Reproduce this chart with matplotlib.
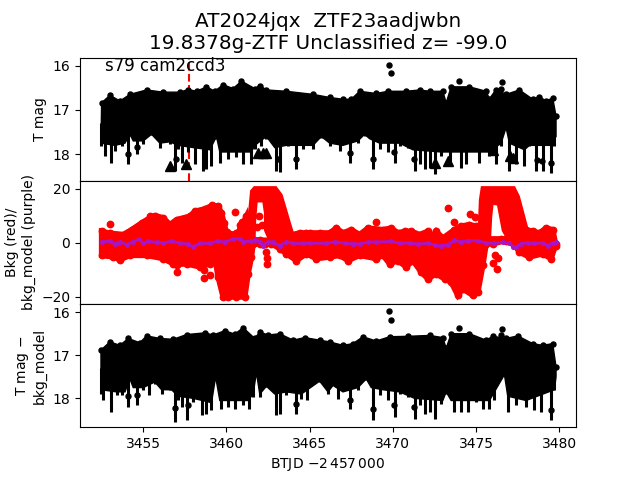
import matplotlib
matplotlib.use("Agg")
import matplotlib.pyplot as plt
import numpy as np

TITLE = "AT2024jqx  ZTF23aadjwbn\n19.8378g-ZTF Unclassified z= -99.0"
SECTOR_TEXT = "s79 cam2ccd3"
REF_TIME = 3457.76

### top panel: edges of the dense light curve
t_top1 = [3452.5, 3453.0, 3453.6, 3454.2, 3455.2, 3456.2, 3457.2, 3457.7, 3458.2, 3458.8, 3459.3, 3459.8,
          3460.4, 3460.9, 3461.7, 3462.0, 3462.4, 3463.6, 3465.2, 3466.2, 3467.0, 3467.5, 3468.0, 3469.0,
          3469.7, 3470.8, 3471.6, 3472.2, 3473.0, 3473.2, 3473.5, 3474.6, 3475.6, 3475.8, 3476.2, 3476.8,
          3477.6, 3478.4, 3478.8, 3479.2, 3479.6, 3479.8]
mag_top1 = [16.84, 16.67, 16.80, 16.65, 16.55, 16.60, 16.60, 16.54, 16.58, 16.48, 16.58, 16.43,
            16.52, 16.35, 16.52, 16.45, 16.55, 16.58, 16.65, 16.72, 16.76, 16.76, 16.58, 16.63,
            16.58, 16.58, 16.55, 16.58, 16.58, 16.84, 16.48, 16.48, 16.58, 16.75, 16.54, 16.65,
            16.55, 16.76, 16.70, 16.80, 16.73, 17.14]
t_core1 = [3452.46, 3453.3, 3453.9, 3454.2, 3454.4, 3455.0, 3455.5, 3456.0, 3456.6, 3457.1, 3458.0, 3459.0,
           3459.4, 3459.6, 3461.5, 3461.7, 3462.4, 3462.9, 3463.6, 3464.6, 3465.2, 3465.7, 3466.2, 3467.0,
           3467.9, 3468.3, 3468.6, 3469.2, 3470.4, 3471.2, 3472.9, 3473.4, 3475.8, 3476.5, 3476.8, 3477.0,
           3477.9, 3478.2, 3479.5, 3479.8]
mag_core1 = [17.75, 17.80, 17.75, 17.55, 17.70, 17.70, 17.55, 17.75, 17.72, 17.80, 17.85, 17.90,
             17.60, 17.95, 17.95, 17.80, 17.60, 17.85, 17.80, 17.80, 17.80, 17.60, 17.75, 17.80,
             17.70, 17.55, 17.65, 17.75, 17.75, 17.90, 17.95, 17.95, 17.95, 17.75, 17.40, 17.75,
             17.90, 17.80, 17.80, 17.60]
t_bot1 = [3452.46, 3452.7, 3453.05, 3453.3, 3453.7, 3454.06, 3454.2, 3454.6, 3455.0, 3455.5, 3456.0, 3456.6,
          3456.9, 3457.1, 3457.3, 3457.7, 3458.1, 3458.6, 3458.8, 3459.1, 3459.4, 3459.6, 3460.1, 3460.6,
          3461.0, 3461.5, 3461.7, 3462.1, 3462.4, 3463.0, 3463.2, 3463.7, 3464.2, 3464.6, 3465.2, 3465.7,
          3466.2, 3466.8, 3467.4, 3467.9, 3468.3, 3468.8, 3469.2, 3469.7, 3470.1, 3470.4, 3470.9, 3471.3,
          3471.6, 3471.9, 3472.2, 3472.5, 3472.9, 3473.4, 3474.1, 3474.4, 3475.2, 3475.8, 3476.2, 3476.5,
          3476.8, 3477.0, 3477.4, 3477.9, 3478.2, 3478.6, 3479.0, 3479.5, 3479.7]
mag_bot1 = [17.81, 18.04, 18.20, 17.92, 17.81, 18.22, 17.59, 18.00, 17.77, 17.57, 17.85, 17.77,
            18.37, 17.89, 18.19, 17.96, 18.22, 18.37, 18.34, 18.26, 17.66, 18.19, 18.11, 18.07,
            18.22, 18.22, 17.89, 17.81, 17.66, 18.37, 18.41, 17.81, 18.34, 17.89, 17.89, 17.63,
            17.81, 17.92, 18.19, 17.74, 17.59, 18.34, 17.89, 17.96, 18.19, 17.81, 17.85, 18.37,
            18.22, 18.34, 18.30, 18.45, 18.04, 18.26, 18.30, 18.22, 18.19, 18.04, 18.22, 17.81,
            17.40, 18.37, 18.22, 18.26, 17.81, 18.37, 18.37, 18.43, 17.81]
t_dots1 = [3469.79, 3469.87, 3473.99, 3476.57, 3476.51, 3454.06, 3454.6, 3456.96, 3463.1, 3464.2, 3467.43,
           3468.83, 3470.09, 3471.27, 3478.63, 3478.97, 3479.49, 3457.72]
mag_dots1 = [15.98, 16.16, 16.34, 16.38, 16.52, 18.0, 17.83, 18.1, 18.11, 18.11, 17.98,
             18.11, 17.96, 18.1, 18.13, 18.16, 18.2, 16.6]
t_lim = [3456.6, 3457.58, 3461.9, 3462.2, 3462.35, 3472.53, 3473.33, 3476.0, 3477.03, 3477.2]
mag_lim = [18.26, 18.22, 17.98, 17.98, 17.98, 18.19, 18.15, 17.9, 18.04, 18.08]

### middle panel: background
t_band_top = [3452.5, 3453.0, 3453.8, 3454.3, 3454.9, 3455.4, 3455.7, 3456.2, 3456.6, 3457.0, 3457.8, 3458.1,
              3458.7, 3459.15, 3459.5, 3459.7, 3459.85, 3460.0, 3460.6, 3460.8, 3461.0, 3461.2, 3461.4, 3462.0,
              3463.0, 3463.9, 3464.4, 3464.8, 3465.0, 3465.6, 3466.2, 3466.6, 3467.0, 3467.5, 3468.0, 3468.5,
              3469.4, 3469.9, 3470.3, 3470.7, 3471.1, 3471.6, 3472.1, 3472.3, 3472.6, 3473.0, 3473.7, 3474.1,
              3474.6, 3475.0, 3475.2, 3475.6, 3476.5, 3477.4, 3478.0, 3478.4, 3478.8, 3479.2, 3479.6, 3479.8]
bkg_band_top = [4.3, 3.6, 3.1, 4.9, 7.4, 9.3, 10.1, 9.3, 6.8, 8.6, 9.9, 11.7,
                12.6, 13.9, 13.6, 11.1, 7.4, 3.7, 3.1, 4.9, 7.4, 9.9, 1.5, 1.0,
                1.0, 3.0, 3.7, 3.7, 3.7, 3.7, 3.7, 5.5, 3.7, 4.9, 3.1, 5.5,
                4.9, 5.5, 3.7, 4.3, 4.3, 3.1, 4.3, 1.8, 4.3, 1.8, 4.9, 6.2,
                6.8, 6.2, 3.7, 1.5, 1.5, 1.5, 4.9, 4.3, 3.7, 5.5, 4.9, -1.3]
t_band_bot = [3452.5, 3453.2, 3453.6, 3454.2, 3455.2, 3456.2, 3456.8, 3457.0, 3457.6, 3458.4, 3459.0, 3459.3,
              3459.5, 3459.8, 3460.1, 3460.6, 3461.1, 3461.3, 3461.5, 3461.6, 3462.0, 3462.3, 3462.7, 3463.2,
              3463.6, 3464.2, 3464.8, 3465.4, 3466.2, 3466.8, 3467.3, 3468.0, 3469.0, 3469.4, 3469.8, 3470.3,
              3470.8, 3471.2, 3471.7, 3472.1, 3472.6, 3473.1, 3473.5, 3473.9, 3474.2, 3474.8, 3475.1, 3475.4,
              3475.6, 3476.0, 3476.8, 3477.2, 3477.6, 3478.2, 3479.0, 3479.5, 3479.8]
bkg_band_bot = [-4.6, -5.2, -6.2, -4.6, -4.6, -5.8, -7.7, -8.0, -7.7, -8.9, -7.7, -5.2,
                -12.6, -20.0, -20.0, -20.0, -20.0, -11.4, -5.2, -0.3, -0.5, -0.3, -0.3, -2.1,
                -4.0, -6.5, -4.0, -5.8, -5.2, -4.6, -6.5, -4.6, -5.8, -4.6, -7.7, -6.5,
                -8.9, -6.5, -10.8, -13.3, -11.4, -13.3, -14.5, -19.4, -17.0, -19.4, -18.2, -8.3,
                -0.3, -0.3, 0.9, 0.3, -3.4, -5.2, -4.0, -5.8, -0.3]
t_ridge1 = [3461.42, 3461.46, 3461.58, 3461.72, 3462.42, 3462.92, 3463.22, 3463.46, 3463.72, 3463.92, 3463.62,
            3463.22, 3462.72, 3462.42, 3462.42, 3462.3, 3461.72, 3461.62, 3461.58]
bkg_ridge1 = [0.0, 11.0, 19.0, 20.0, 20.0, 20.0, 17.5, 12.5, 7.0, 3.0, 0.0,
              -0.7, 0.5, 4.8, 11.0, 16.0, 16.0, 8.5, 0.0]
t_ridge2 = [3475.59, 3475.27, 3475.33, 3475.43, 3476.23, 3477.23, 3477.47, 3477.73, 3478.03, 3477.73, 3477.13,
            3476.7, 3476.55, 3476.4, 3475.9, 3475.8, 3475.72]
bkg_ridge2 = [0.0, 6.2, 15.9, 20.0, 20.0, 20.0, 17.0, 11.0, 4.0, 0.0, 0.0,
              4.8, 9.7, 14.7, 15.3, 9.7, 0.0]
t_bkg_dots = [3452.98, 3455.38, 3460.54, 3460.92, 3460.82, 3460.02, 3460.58, 3461.98, 3462.12, 3461.82, 3462.38,
              3462.42, 3462.46, 3457.02, 3458.68, 3459.02, 3458.66, 3473.33, 3473.69, 3474.63, 3474.93, 3476.87,
              3468.99, 3476.03, 3476.23, 3476.33, 3476.13]
bkg_dots = [6.9, 9.8, 11.4, 7.9, 6.7, 4.2, 3.6, 10.0, 6.7, 6.0, -3.2,
            -5.7, -7.8, -10.6, -13.1, -11.9, -10.0, 12.8, 7.9, 10.7, 9.7, 1.7,
            7.9, -7.5, -9.8, -5.7, -4.5]
t_model = [3452.5, 3453.0, 3453.3, 3453.5, 3453.6, 3454.0, 3454.4, 3454.75, 3455.0, 3455.3, 3455.8, 3456.2,
           3456.7, 3457.2, 3457.7, 3458.0, 3458.4, 3459.0, 3459.5, 3459.9, 3460.4, 3460.8, 3461.0, 3461.5,
           3461.7, 3462.0, 3462.2, 3462.5, 3462.8, 3463.2, 3463.6, 3464.0, 3464.6, 3465.0, 3466.0, 3466.5,
           3467.1, 3467.6, 3468.0, 3468.5, 3469.0, 3469.9, 3470.4, 3471.0, 3471.5, 3472.1, 3472.5, 3472.9,
           3473.3, 3473.7, 3474.1, 3474.5, 3475.1, 3475.6, 3476.1, 3476.6, 3477.0, 3477.2, 3477.4, 3477.7,
           3478.1, 3478.5, 3479.0, 3479.3, 3479.6, 3479.8]
bkg_model = [0.4, 0.7, -0.5, -0.2, 0.5, -0.6, 0.4, 1.5, -0.2, 0.6, 0.2, 0.1,
             0.6, 0.0, -0.4, -1.4, -0.2, -0.1, 0.8, 0.2, 1.5, 1.5, 0.5, 0.6,
             1.2, 0.5, -1.0, 0.5, 0.2, -1.0, 0.5, -0.2, -0.2, 0.0, -0.2, 0.4,
             -0.1, -0.3, -0.4, 0.4, 0.3, 0.6, -0.1, 0.0, -0.4, -0.1, -0.8, -1.2,
             -0.6, 1.0, 0.3, 0.9, 0.8, 0.0, -0.1, 0.2, -0.1, -1.4, -1.5, -0.3,
             0.1, -0.2, 0.1, -1.0, 0.1, 0.3]

### bottom panel: background subtracted
t_top3 = [3452.46, 3453.0, 3453.6, 3454.1, 3454.8, 3455.2, 3456.0, 3456.8, 3457.6, 3458.7, 3459.2, 3459.9,
          3460.5, 3461.0, 3461.7, 3462.0, 3462.5, 3463.2, 3464.0, 3464.7, 3465.6, 3466.2, 3467.0, 3467.6,
          3468.2, 3469.0, 3469.8, 3470.9, 3472.2, 3473.0, 3473.2, 3473.5, 3474.6, 3475.6, 3476.0, 3476.8,
          3477.5, 3478.4, 3479.0, 3479.6, 3479.8]
mag_top3 = [16.88, 16.69, 16.77, 16.61, 16.71, 16.55, 16.61, 16.63, 16.52, 16.48, 16.53, 16.43,
            16.51, 16.36, 16.61, 16.46, 16.53, 16.50, 16.65, 16.59, 16.65, 16.69, 16.77, 16.73,
            16.57, 16.67, 16.57, 16.56, 16.54, 16.59, 16.84, 16.50, 16.50, 16.65, 16.56, 16.61,
            16.55, 16.73, 16.77, 16.73, 17.27]
t_core3 = [3452.46, 3453.4, 3453.9, 3454.2, 3454.4, 3455.0, 3455.7, 3456.1, 3456.7, 3457.1, 3458.0, 3459.1,
           3459.35, 3459.6, 3461.3, 3461.6, 3461.8, 3462.0, 3462.4, 3462.9, 3463.6, 3464.5, 3465.6, 3466.1,
           3466.4, 3467.0, 3467.9, 3468.4, 3468.7, 3469.4, 3470.4, 3471.3, 3473.0, 3473.2, 3473.5, 3475.8,
           3476.7, 3476.9, 3478.0, 3479.7, 3479.8]
mag_core3 = [17.80, 17.85, 17.85, 17.55, 17.75, 17.75, 17.62, 17.80, 17.80, 17.95, 18.00, 18.10,
             17.50, 18.05, 18.05, 17.90, 17.40, 17.90, 17.72, 17.90, 17.85, 17.90, 17.60, 17.85,
             17.70, 17.85, 17.75, 17.55, 17.75, 17.80, 17.85, 18.00, 18.05, 17.85, 18.05, 18.05,
             17.45, 17.95, 18.05, 17.80, 17.50]
t_bot3 = [3452.46, 3452.6, 3453.05, 3453.4, 3453.7, 3454.06, 3454.2, 3454.6, 3455.0, 3455.35, 3455.7, 3456.1,
          3456.6, 3456.9, 3457.1, 3457.3, 3457.65, 3458.0, 3458.55, 3458.8, 3459.1, 3459.35, 3459.7, 3460.1,
          3460.5, 3461.0, 3461.35, 3461.6, 3461.8, 3462.0, 3462.4, 3462.95, 3463.2, 3463.6, 3464.2, 3464.5,
          3464.85, 3465.6, 3466.1, 3466.7, 3467.4, 3467.9, 3468.4, 3468.8, 3469.2, 3469.7, 3470.1, 3470.4,
          3470.9, 3471.3, 3471.6, 3471.9, 3472.2, 3472.5, 3472.9, 3473.2, 3473.7, 3474.1, 3474.5, 3475.0,
          3475.4, 3475.8, 3476.1, 3476.7, 3476.9, 3477.4, 3478.0, 3478.5, 3478.9, 3479.5, 3479.7]
mag_bot3 = [17.89, 18.05, 18.32, 17.93, 17.93, 18.19, 17.58, 18.16, 17.81, 17.93, 17.66, 17.89,
            17.81, 18.55, 18.05, 18.20, 18.51, 18.08, 18.39, 18.36, 18.28, 17.50, 18.24, 18.20,
            18.24, 18.16, 18.24, 17.97, 17.39, 17.97, 17.74, 18.39, 18.36, 17.93, 18.36, 18.01,
            18.05, 17.62, 17.89, 18.01, 18.24, 17.81, 17.58, 18.51, 17.93, 18.05, 18.43, 17.89,
            17.97, 18.47, 18.16, 18.36, 18.32, 18.47, 18.12, 17.89, 18.32, 18.32, 18.32, 18.08,
            18.24, 18.24, 18.05, 17.46, 18.32, 18.16, 18.20, 18.28, 18.32, 18.50, 17.81]
t_dots3 = [3469.79, 3469.87, 3473.99, 3476.57, 3476.49, 3454.06, 3454.6, 3456.93, 3457.66, 3464.18, 3467.43,
           3468.83, 3470.09, 3471.27, 3479.49]
mag_dots3 = [15.98, 16.17, 16.36, 16.39, 16.53, 17.95, 17.92, 18.22, 18.16, 18.14, 18.05,
             18.24, 18.15, 18.2, 18.26]


def draw_lightcurve(ax, t_top, mag_top, t_core, mag_core, t_bot, mag_bot, t_dots, mag_dots):
    ax.fill(t_top + t_core[::-1], mag_top + mag_core[::-1], color="black", lw=1.0, zorder=3)
    ax.plot(t_top, mag_top, "o", color="black", ms=3.6, zorder=3)
    # error bars that stick out under the dense part
    ax.vlines(t_bot, 17.3, mag_bot, color="black", lw=2.2, zorder=3)
    ax.plot(t_dots, mag_dots, "o", color="black", ms=3.6, zorder=3)


fig, (ax1, ax2, ax3) = plt.subplots(3, 1, sharex=True)
fig.subplots_adjust(hspace=0)

ax1.axvline(REF_TIME, color="red", ls="--", lw=1.5, zorder=1)
draw_lightcurve(ax1, t_top1, mag_top1, t_core1, mag_core1, t_bot1, mag_bot1, t_dots1, mag_dots1)
ax1.plot(t_lim, mag_lim, "^", color="black", ms=6.5, zorder=3)
ax1.set_ylim(18.6, 15.82)
ax1.set_yticks([16, 17, 18])
ax1.set_ylabel("T mag")
ax1.set_title(TITLE, fontsize=14.4)
ax1.text(0.05, 0.895, SECTOR_TEXT, transform=ax1.transAxes, fontsize=12, zorder=5)

ax2.fill(t_band_top + t_band_bot[::-1], bkg_band_top + bkg_band_bot[::-1], color="red", lw=4, zorder=2)
ax2.fill(t_ridge1, bkg_ridge1, color="red", lw=4, zorder=2)
ax2.fill(t_ridge2, bkg_ridge2, color="red", lw=4, zorder=2)
ax2.plot(t_band_top, bkg_band_top, "o", color="red", ms=4.6, zorder=2)
ax2.plot(t_band_bot, bkg_band_bot, "o", color="red", ms=4.6, zorder=2)
ax2.plot(t_bkg_dots, bkg_dots, "o", color="red", ms=4.6, zorder=2)
ax2.plot(t_model, bkg_model, "-o", color="#a814c8", lw=2, ms=2.6, zorder=3)
ax2.set_ylim(-22.6, 23)
ax2.set_yticks([-20, 0, 20])
ax2.set_ylabel("Bkg (red)/\nbkg_model (purple)")

draw_lightcurve(ax3, t_top3, mag_top3, t_core3, mag_core3, t_bot3, mag_bot3, t_dots3, mag_dots3)
ax3.set_ylim(18.67, 15.81)
ax3.set_yticks([16, 17, 18])
ax3.set_ylabel("T mag $-$\nbkg_model")
ax3.set_xlim(3451.2, 3481)
ax3.set_xticks([3455, 3460, 3465, 3470, 3475, 3480])
ax3.set_xlabel(r"BTJD $-2\,457\,000$")

fig.savefig("out.png", dpi=100)
